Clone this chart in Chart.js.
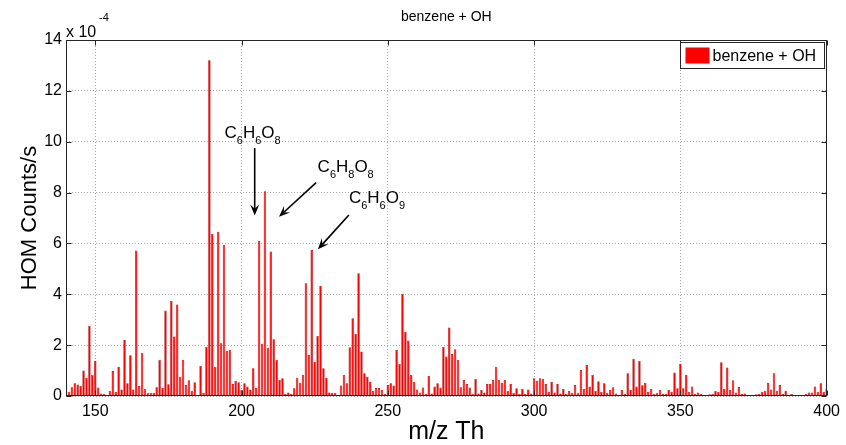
<!DOCTYPE html>
<html lang="en">
<head>
  <meta charset="UTF-8">
  <title>benzene + OH</title>
  <script src="https://cdn.jsdelivr.net/npm/chart.js"></script>
  <style>
    body {
      margin: 0;
      background: #fff;
    }
    #wrap {
      width: 846px;
      height: 445px;
      position: relative;
    }
  </style>
</head>
<body>
<div id="wrap"><canvas id="chart"></canvas></div>

<script>
// HOM counts per unit mass, in units of 1e-4 counts/s, starting at m/z 140
const massStart = 140;
const counts = [
  0.5, 0.17, 0.34, 0.5, 0.45, 0.4, 1.0, 0.72, 2.76, 0.83,
  1.38, 0.33, 0.1, 0.08, 0.04, 0.2, 0.98, 0.16, 1.15, 0.26,
  2.2, 0.5, 1.6, 0.26, 5.72, 0.4, 1.7, 0.29, 0.13, 0.13,
  0.13, 0.34, 1.42, 0.31, 3.36, 0.46, 3.74, 2.34, 3.6, 0.76,
  1.42, 0.43, 0.62, 0.21, 0.54, 0.04, 1.18, 0.13, 1.94, 13.2,
  6.38, 1.15, 6.46, 2.07, 5.95, 1.77, 1.81, 0.47, 0.6, 0.54,
  0.24, 0.5, 0.37, 0.26, 1.09, 0.31, 6.1, 2.05, 8.05, 1.9,
  5.68, 2.23, 1.42, 0.63, 0.7, 0.08, 0.14, 0.08, 0.3, 0.72,
  0.52, 0.83, 4.43, 1.62, 5.75, 1.35, 2.36, 4.34, 1.09, 0.72,
  0.14, 0.13, 0.13, 0.04, 0.41, 0.83, 0.5, 1.92, 3.06, 2.44,
  4.83, 1.75, 0.89, 0.76, 0.56, 0.21, 0.31, 0.31, 0.24, 0.08,
  0.43, 0.5, 0.41, 1.81, 1.26, 4.02, 2.53, 2.18, 0.83, 0.56,
  0.26, 0.14, 0.33, 0.08, 0.79, 0.1, 0.37, 0.5, 0.33, 1.94,
  1.55, 2.69, 1.65, 1.84, 1.42, 0.34, 0.63, 0.47, 0.33, 0.08,
  0.67, 0.1, 0.24, 0.14, 0.47, 0.47, 0.63, 1.15, 0.63, 0.52,
  0.63, 0.2, 0.47, 0.13, 0.3, 0.08, 0.28, 0.08, 0.26, 0.1,
  0.7, 0.6, 0.7, 0.67, 0.47, 0.17, 0.56, 0.14, 0.47, 0.1,
  0.28, 0.08, 0.2, 0.13, 0.43, 0.13, 1.02, 0.28, 1.22, 0.37,
  0.83, 0.2, 0.58, 0.16, 0.5, 0.13, 0.24, 0.34, 0.1, 0.04,
  0.24, 0.08, 0.89, 0.24, 1.46, 0.37, 1.38, 0.42, 0.52, 0.16,
  0.28, 0.08, 0.13, 0.24, 0.08, 0.08, 0.24, 0.17, 0.92, 0.3,
  1.26, 0.3, 0.83, 0.17, 0.37, 0.08, 0.14, 0.08, 0.04, 0.04,
  0.07, 0.08, 0.2, 0.17, 1.33, 0.28, 1.12, 0.24, 0.62, 0.14,
  0.35, 0.08, 0.1, 0.04, 0.04, 0.04, 0.07, 0.09, 0.17, 0.21,
  0.52, 0.26, 0.89, 0.21, 0.43, 0.08, 0.21, 0.04, 0.08, 0.04,
  0.04, 0.04, 0.04, 0.08, 0.14, 0.14, 0.37, 0.17, 0.5, 0.17,
  0.3
];
const masses = counts.map((_, i) => massStart + i);
const xTicks = [150, 200, 250, 300, 350, 400];
const yTicks = [0, 2, 4, 6, 8, 10, 12, 14];
const seriesLabel = 'benzene + OH';
const chartTitle = 'benzene + OH';
const xTitle = 'm/z Th';
const yTitle = 'HOM Counts/s';

// peak labels, placed in data coordinates (m/z, 1e-4 counts/s)
const notes = [
  { formula: 'C_6H_6O_8', text: [194.2, 10.15], from: [204.5, 9.75], to: [204.5, 7.1] },
  { formula: 'C_6H_8O_8', text: [226.0, 8.82], from: [225.5, 8.39], to: [212.8, 7.05] },
  { formula: 'C_6H_6O_9', text: [236.7, 7.59], from: [236.7, 7.12], to: [226.1, 5.77] }
];

const FONT = "'Liberation Sans', Arial, sans-serif";

function drawFormula(ctx, str, x, y) {
  let cx = x;
  ctx.textAlign = 'left';
  ctx.textBaseline = 'alphabetic';
  for (let i = 0; i < str.length; i++) {
    if (str[i] === '_') {
      ctx.font = '11px ' + FONT;
      ctx.fillText(str[i + 1], cx, y + 6);
      cx += ctx.measureText(str[i + 1]).width;
      i++;
    } else {
      ctx.font = '17px ' + FONT;
      ctx.fillText(str[i], cx, y);
      cx += ctx.measureText(str[i]).width;
    }
  }
}

function drawArrow(ctx, x1, y1, x2, y2) {
  const ang = Math.atan2(y2 - y1, x2 - x1);
  const c = Math.cos(ang), s = Math.sin(ang);
  const len = 11, half = 4.5;
  ctx.beginPath();
  ctx.moveTo(x1, y1);
  ctx.lineTo(x2 - c * len * 0.6, y2 - s * len * 0.6);
  ctx.stroke();
  ctx.beginPath();
  ctx.moveTo(x2, y2);
  ctx.lineTo(x2 - len * c + half * s, y2 - len * s - half * c);
  ctx.lineTo(x2 - 0.6 * len * c, y2 - 0.6 * len * s);
  ctx.lineTo(x2 - len * c - half * s, y2 - len * s + half * c);
  ctx.closePath();
  ctx.fill();
}

// axes box, inward ticks, titles, legend and peak labels drawn the matlab way
const matlabFrame = {
  id: 'matlabFrame',
  afterDraw(chart) {
    const { ctx, chartArea: a, scales: { x, y } } = chart;
    const L = Math.round(a.left) + 0.5, R = Math.round(a.right) - 0.5;
    const T = Math.round(a.top) + 0.5, B = Math.round(a.bottom) - 0.5;
    ctx.save();
    ctx.strokeStyle = '#262626';
    ctx.lineWidth = 1;
    ctx.strokeRect(L, T, R - L, B - T);

    ctx.beginPath();
    xTicks.forEach(v => {
      const px = Math.round(x.getPixelForValue(v)) + 0.5;
      ctx.moveTo(px, B); ctx.lineTo(px, B - 5);
      ctx.moveTo(px, T); ctx.lineTo(px, T + 5);
    });
    yTicks.forEach(v => {
      const py = Math.round(y.getPixelForValue(v)) + 0.5;
      ctx.moveTo(L, py); ctx.lineTo(L + 5, py);
      ctx.moveTo(R, py); ctx.lineTo(R - 5, py);
    });
    ctx.stroke();

    ctx.fillStyle = '#000';
    const cx = (a.left + a.right) / 2;
    ctx.textAlign = 'center';
    ctx.textBaseline = 'middle';
    ctx.font = '14px ' + FONT;
    ctx.fillText(chartTitle, cx, 17);
    ctx.font = '25px ' + FONT;
    ctx.fillText(xTitle, cx, 432);
    ctx.save();
    ctx.translate(30, (a.top + a.bottom) / 2);
    ctx.rotate(-Math.PI / 2);
    ctx.font = '22px ' + FONT;
    ctx.fillText(yTitle, 0, 0);
    ctx.restore();

    // exponent note
    ctx.textAlign = 'left';
    ctx.textBaseline = 'alphabetic';
    ctx.font = '16px ' + FONT;
    ctx.fillText('x 10', a.left, 37);
    ctx.font = '11px ' + FONT;
    ctx.fillText('-4', a.left + 33, 21);

    // legend
    const lw = 144, lh = 26;
    const lx = Math.round(a.right) - 3 - lw + 0.5, ly = Math.round(a.top) + 2.5;
    ctx.fillStyle = '#fff';
    ctx.fillRect(lx, ly, lw, lh);
    ctx.strokeStyle = '#262626';
    ctx.strokeRect(lx, ly, lw, lh);
    ctx.fillStyle = '#ff0000';
    ctx.fillRect(lx + 5, ly + 5, 24, 16);
    ctx.fillStyle = '#000';
    ctx.font = '16px ' + FONT;
    ctx.textBaseline = 'middle';
    ctx.fillText(seriesLabel, lx + 32, ly + lh / 2 + 1);

    // peak labels
    ctx.fillStyle = '#000';
    ctx.strokeStyle = '#000';
    ctx.lineWidth = 1.6;
    notes.forEach(n => {
      drawFormula(ctx, n.formula, x.getPixelForValue(n.text[0]), y.getPixelForValue(n.text[1]));
      drawArrow(ctx,
        x.getPixelForValue(n.from[0]), y.getPixelForValue(n.from[1]),
        x.getPixelForValue(n.to[0]), y.getPixelForValue(n.to[1]));
    });
    ctx.restore();
  }
};

new Chart(document.getElementById('chart'), {
  type: 'bar',
  data: {
    datasets: [{
      label: seriesLabel,
      data: masses.map((m, i) => ({ x: m, y: counts[i] })),
      backgroundColor: '#ff0000',
      borderColor: '#c00000',
      borderWidth: 0.6,
      barPercentage: 0.85,
      categoryPercentage: 1.0,
      clip: 0
    }]
  },
  options: {
    responsive: true,
    maintainAspectRatio: false,
    animation: false,
    layout: { padding: { left: 0, right: 18, top: 40, bottom: 0 } },
    plugins: {
      legend: { display: false },
      tooltip: { enabled: false }
    },
    scales: {
      x: {
        type: 'linear',
        min: 140,
        max: 400,
        offset: false,
        afterBuildTicks: s => { s.ticks = xTicks.map(v => ({ value: v })); },
        afterFit: s => { s.height = 49; },
        ticks: {
          color: '#000',
          font: { family: FONT, size: 16 },
          padding: 6,
          maxRotation: 0
        },
        grid: { color: '#a8a8a8', drawTicks: false, offset: false },
        border: { display: false, dash: [1, 2] }
      },
      y: {
        min: 0,
        max: 14,
        afterBuildTicks: s => { s.ticks = yTicks.map(v => ({ value: v })); },
        afterFit: s => { s.width = 66; },
        ticks: {
          color: '#000',
          font: { family: FONT, size: 16 },
          padding: 4
        },
        grid: { color: '#a8a8a8', drawTicks: false },
        border: { display: false, dash: [1, 2] }
      }
    }
  },
  plugins: [matlabFrame]
});
</script>
</body>
</html>
